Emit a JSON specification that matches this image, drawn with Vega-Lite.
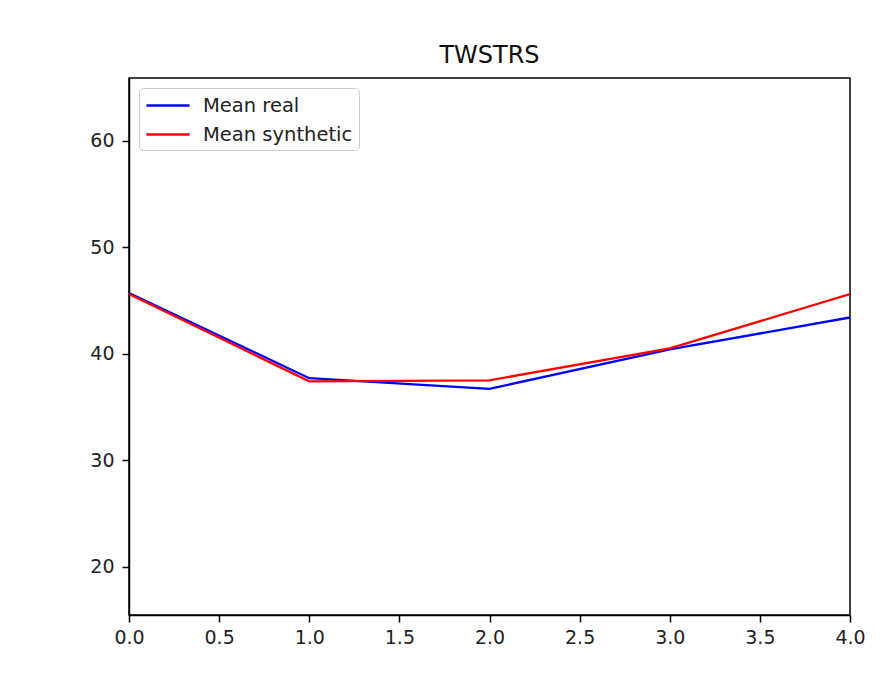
{
  "$schema": "https://vega.github.io/schema/vega-lite/v6.json",
  "autosize": "none",
  "width": 721,
  "height": 537,
  "padding": {"left": 129, "top": 78, "right": 34, "bottom": 71},
  "background": "white",
  "title": {"text": "TWSTRS", "font": "DejaVu Sans", "fontSize": 24, "fontWeight": "normal", "color": "#111111", "baseline": "alphabetic", "offset": 15, "dy": 24},
  "config": {
    "view": {"stroke": "#000000", "strokeWidth": 1.5},
    "axis": {"labelFont": "DejaVu Sans", "labelFontSize": 19, "labelColor": "#222222", "tickColor": "#000000", "tickWidth": 1.5, "domainColor": "#000000", "domainWidth": 1.5, "grid": false, "tickSize": 7, "labelPadding": 6, "title": null}
  },
  "data": {
    "values": [
      {"x": 0, "y": 45.7, "series": "Mean real"},
      {"x": 1, "y": 37.7, "series": "Mean real"},
      {"x": 2, "y": 36.7, "series": "Mean real"},
      {"x": 3, "y": 40.4, "series": "Mean real"},
      {"x": 4, "y": 43.4, "series": "Mean real"},
      {"x": 0, "y": 45.6, "series": "Mean synthetic"},
      {"x": 1, "y": 37.4, "series": "Mean synthetic"},
      {"x": 2, "y": 37.5, "series": "Mean synthetic"},
      {"x": 3, "y": 40.5, "series": "Mean synthetic"},
      {"x": 4, "y": 45.6, "series": "Mean synthetic"}
    ]
  },
  "mark": {"type": "line", "strokeWidth": 2.3, "clip": true},
  "encoding": {
    "x": {"field": "x", "type": "quantitative", "scale": {"domain": [0, 4], "nice": false, "zero": false}, "axis": {"values": [0, 0.5, 1, 1.5, 2, 2.5, 3, 3.5, 4], "format": ".1f", "labelFlush": false}},
    "y": {"field": "y", "type": "quantitative", "scale": {"domain": [15.45, 65.9], "nice": false, "zero": false}, "axis": {"values": [20, 30, 40, 50, 60], "labelPadding": 8}},
    "color": {
      "field": "series", "type": "nominal",
      "scale": {"domain": ["Mean real", "Mean synthetic"], "range": ["#0000ff", "#ff0000"]},
      "legend": {
        "title": null, "orient": "top-left", "offset": 10,
        "symbolType": "M-1,0H3.3", "symbolSize": 400, "symbolStrokeWidth": 2.5,
        "labelFont": "DejaVu Sans", "labelFontSize": 19.5, "labelColor": "#222222",
        "strokeColor": "#cccccc", "fillColor": "white", "cornerRadius": 4,
        "padding": 6, "rowPadding": 8, "labelOffset": 35
      }
    },
    "order": {"field": "series"}
  }
}
